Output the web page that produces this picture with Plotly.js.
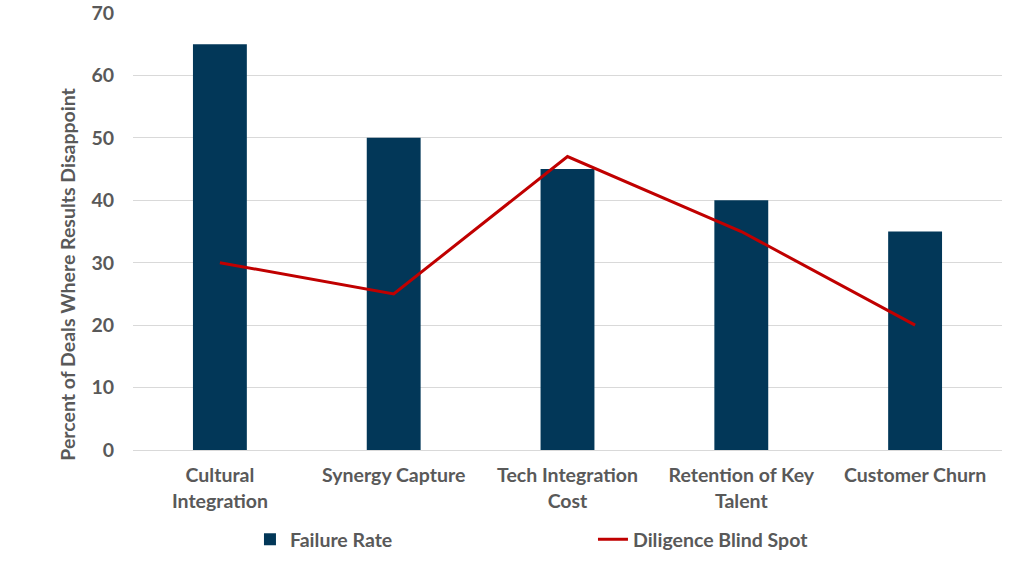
<!DOCTYPE html>
<html><head><meta charset="utf-8">
<script src="https://cdn.plot.ly/plotly-3.0.1.min.js"></script>
<style>html,body{margin:0;padding:0;background:#fff;}#chart{width:1024px;height:576px;}</style>
</head><body><div id="chart"></div>
<script>
const categories = ["Cultural<br>Integration", "Synergy Capture", "Tech Integration<br>Cost", "Retention of Key<br>Talent", "Customer Churn"];
const failureRate = [65, 50, 45, 40, 35];
const blindSpot = [30, 25, 47, 35, 20];
const yTicks = [0, 10, 20, 30, 40, 50, 60, 70];
const yTitle = "Percent of Deals Where Results Disappoint";

const FONT = "Lato, 'Open Sans', sans-serif";
const GRAY = "#595959";
const FS = 19.5;

const traces = [
  {type: "bar", x: categories, y: failureRate, name: "Failure Rate",
   marker: {color: "#023758"}},
  {type: "scatter", mode: "lines", x: categories, y: blindSpot, name: "Diligence Blind Spot",
   line: {color: "#C00000", width: 3}}
];

const layout = {
  width: 1024, height: 576,
  margin: {l: 133, r: 22, t: 13, b: 126},
  paper_bgcolor: "#fff", plot_bgcolor: "#fff",
  font: {family: FONT, color: GRAY, size: FS, weight: "bold"},
  bargap: 0.69,
  showlegend: true,
  xaxis: {showgrid: false, showline: true, linecolor: "#d9d9d9", linewidth: 1, automargin: false,
          ticklabelstandoff: 8,
          tickfont: {family: FONT, size: FS, color: GRAY, weight: "bold"}, ticks: ""},
  yaxis: {range: [0, 70], tickvals: yTicks, showgrid: true, gridcolor: "#d9d9d9", gridwidth: 1,
          zeroline: false, showline: false, ticklabelstandoff: 18, automargin: false,
          tickfont: {family: FONT, size: FS, color: GRAY, weight: "bold"}},
  annotations: [{text: yTitle, xref: "paper", yref: "paper", x: -0.075, y: 0.403,
                 xanchor: "center", yanchor: "middle", textangle: -90, showarrow: false,
                 font: {family: FONT, size: FS, color: GRAY, weight: "bold"}}],
  legend: {orientation: "h", x: 0.1346, xanchor: "left", y: -0.205, yanchor: "middle",
           entrywidth: 298, entrywidthmode: "pixels",
           font: {family: FONT, size: FS, color: GRAY, weight: "bold"}, traceorder: "normal"}
};

Plotly.newPlot("chart", traces, layout, {displayModeBar: false, staticPlot: true});
</script></body></html>
